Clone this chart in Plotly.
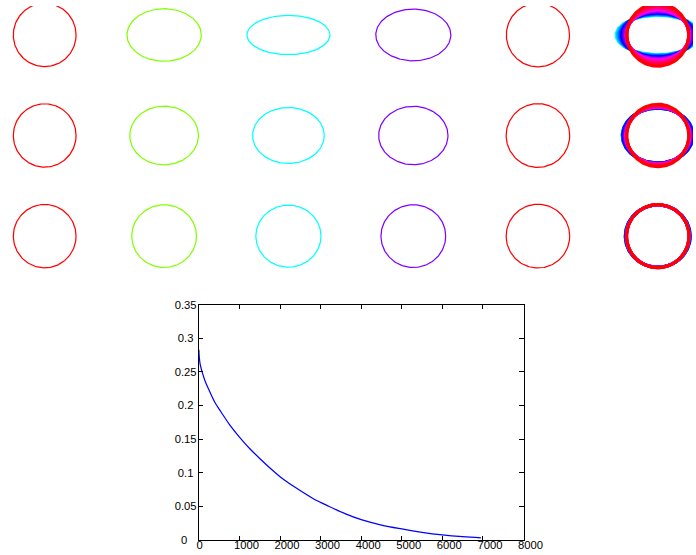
import colorsys
import numpy as np
import plotly.graph_objects as go

# The photographed picture shows a 713x555 window region scaled to 696 wide
# (letterboxed vertically), so the figure is laid out in that region.
S = 696 / 713          # picture px per figure px
OY = 6.6               # letterbox offset of the picture (px)
FW, FH = 713, 555

# ---------------- data ----------------
# snapshot columns (hue of each column's colour)
snapshot_hues = [0, 90, 180, 270, 360]
# semi-axes (horizontal a, vertical b) of each snapshot, per row
row1_a = [31.6, 37.4, 41.8, 37.8, 31.8]
row1_b = [31.6, 26.2, 19.6, 25.8, 31.8]
row2_a = [31.6, 34.6, 36.1, 34.9, 32.0]
row2_b = [31.6, 29.3, 27.9, 29.1, 31.8]
row3_a = [31.6, 32.6, 32.8, 32.6, 32.0]
row3_b = [31.6, 31.3, 30.9, 31.3, 31.8]

# overlay column: frames drawn in order, hue of each frame
overlay_hues = [180, 195, 210, 225, 240, 255, 270, 285, 300, 315, 330, 345, 360]
ov1_a = [42.0, 40.7, 39.3, 38.0, 36.5, 35.0, 33.5, 32.2, 31.8, 31.5, 31.3, 31.2, 31.2]
ov1_b = [19.5, 20.0, 20.6, 21.2, 22.0, 22.8, 23.5, 24.2, 25.2, 26.2, 27.2, 29.2, 31.2]
ov2_a = [35.7, 35.7, 35.7, 35.6, 35.0, 34.2, 33.3, 32.6, 32.2, 31.9, 31.6, 31.4, 31.3]
ov2_b = [27.3, 27.3, 27.3, 27.4, 27.6, 27.8, 28.0, 28.3, 28.6, 28.8, 29.0, 30.0, 31.2]
ov3_a = [32.8, 32.8, 32.7, 32.6, 32.4, 32.1, 31.9, 31.7, 31.6, 31.5, 31.5, 31.5, 31.5]
ov3_b = [31.0, 31.0, 31.0, 31.1, 31.1, 31.2, 31.2, 31.3, 31.3, 31.4, 31.4, 31.5, 31.5]

# decay curve
curve_t = [0, 10, 30, 80, 150, 250, 400, 550, 750, 1000, 1250, 1500, 1750, 2000,
           2400, 2800, 3200, 3600, 4000, 4500, 5000, 5500, 6000, 6500, 6950]
curve_v = [0.283, 0.272, 0.262, 0.250, 0.237, 0.223, 0.204, 0.190, 0.172, 0.153,
           0.136, 0.121, 0.107, 0.094, 0.077, 0.062, 0.050, 0.039, 0.030, 0.022,
           0.0162, 0.0112, 0.0073, 0.0046, 0.003]
x_tickvals = [0, 1000, 2000, 3000, 4000, 5000, 6000, 7000, 8000]
x_ticktext = ["0", "1000", "2000", "3000", "4000", "5000", "6000", "7000", "8000"]
y_tickvals = [0, 0.05, 0.1, 0.15, 0.2, 0.25, 0.3, 0.35]
y_ticktext = ["0", "0.05", "0.1", "0.15", "0.2", "0.25", "0.3", "0.35"]

# ---------------- layout (picture pixel coordinates) ----------------
col_cx = [43.0, 163.3, 288.5, 414.3, 539.8, 660.5]
row_cy = [35.5, 135.8, 236.2]
HW, HH = 56, 48
plot_l, plot_r, plot_t, plot_b = 198.3, 525.3, 304.7, 539.2


def px2fx(px):
    return px / S


def py2fy(py):
    return (py - OY) / S


def hue_color(h):
    r, g, b = colorsys.hsv_to_rgb((h % 360) / 360.0, 1.0, 1.0)
    return "rgb(%d,%d,%d)" % (round(r * 255), round(g * 255), round(b * 255))


theta = np.linspace(0, 2 * np.pi, 181)
fig = go.Figure()
layout = {}

# ----- line chart on axis 1 -----
fig.add_trace(go.Scatter(x=curve_t, y=curve_v, mode="lines",
                         line=dict(color="#0000FF", width=1.2 / S, shape="spline"),
                         hoverinfo="skip", showlegend=False, xaxis="x", yaxis="y"))
axfont = dict(family="Liberation Sans, Arial, sans-serif", size=11 / S, color="#000000")
NB = "\u00a0"
x_text_drawn = [t + NB * 4 if len(t) == 1 else t for t in x_ticktext]
y_text_drawn = [t + NB * (4 - len(t)) for t in y_ticktext]
layout["xaxis"] = dict(domain=[px2fx(plot_l) / FW, px2fx(plot_r) / FW], range=[0, 8000],
                       tickvals=x_tickvals, ticktext=x_text_drawn,
                       ticks="inside", ticklen=4 / S, tickcolor="black", showline=True, linecolor="black",
                       linewidth=1, mirror="ticks", showgrid=False, zeroline=False, tickfont=axfont,
                       ticklabelshift=7, ticklabelstandoff=-5, anchor="y")
layout["yaxis"] = dict(domain=[1 - py2fy(plot_b) / FH, 1 - py2fy(plot_t) / FH], range=[0, 0.35],
                       tickvals=y_tickvals, ticktext=y_text_drawn,
                       ticks="inside", ticklen=4 / S, tickcolor="black", showline=True, linecolor="black",
                       linewidth=1, mirror="ticks", showgrid=False, zeroline=False, tickfont=axfont,
                       ticklabelstandoff=-1, anchor="x")

rows_a = [row1_a, row2_a, row3_a]
rows_b = [row1_b, row2_b, row3_b]
ovs_a = [ov1_a, ov2_a, ov3_a]
ovs_b = [ov1_b, ov2_b, ov3_b]

n = 2
for r in range(3):
    for c in range(6):
        fcx, fcy = px2fx(col_cx[c]), py2fy(row_cy[r])
        x0, x1 = max(0.0, fcx - HW / S), min(float(FW), fcx + HW / S)
        y0, y1 = max(0.0, fcy - HH / S), min(float(FH), fcy + HH / S)
        xa, ya = "x%d" % n, "y%d" % n
        layout["xaxis%d" % n] = dict(domain=[x0 / FW, x1 / FW], range=[(x0 - fcx) * S, (x1 - fcx) * S],
                                     visible=False, anchor=ya, fixedrange=True)
        layout["yaxis%d" % n] = dict(domain=[1 - y1 / FH, 1 - y0 / FH], range=[(fcy - y1) * S, (fcy - y0) * S],
                                     visible=False, anchor=xa, fixedrange=True)
        if c < 5:
            a, b = rows_a[r][c], rows_b[r][c]
            fig.add_trace(go.Scatter(x=a * np.cos(theta), y=b * np.sin(theta), mode="lines",
                                     line=dict(color=hue_color(snapshot_hues[c]), width=1.2 / S),
                                     hoverinfo="skip", showlegend=False, xaxis=xa, yaxis=ya))
        else:
            for h, a, b in zip(overlay_hues, ovs_a[r], ovs_b[r]):
                fig.add_trace(go.Scatter(x=a * np.cos(theta), y=b * np.sin(theta), mode="lines",
                                         line=dict(color=hue_color(h), width=3 / S),
                                         hoverinfo="skip", showlegend=False, xaxis=xa, yaxis=ya))
        n += 1

fig.update_layout(width=FW, height=FH, autosize=False, margin=dict(l=0, r=0, t=0, b=0),
                  paper_bgcolor="white", plot_bgcolor="white", showlegend=False, **layout)
fig.write_html("out.html", config={"displayModeBar": False},
               post_script="document.body.style.margin='0';document.body.style.overflow='hidden';")
